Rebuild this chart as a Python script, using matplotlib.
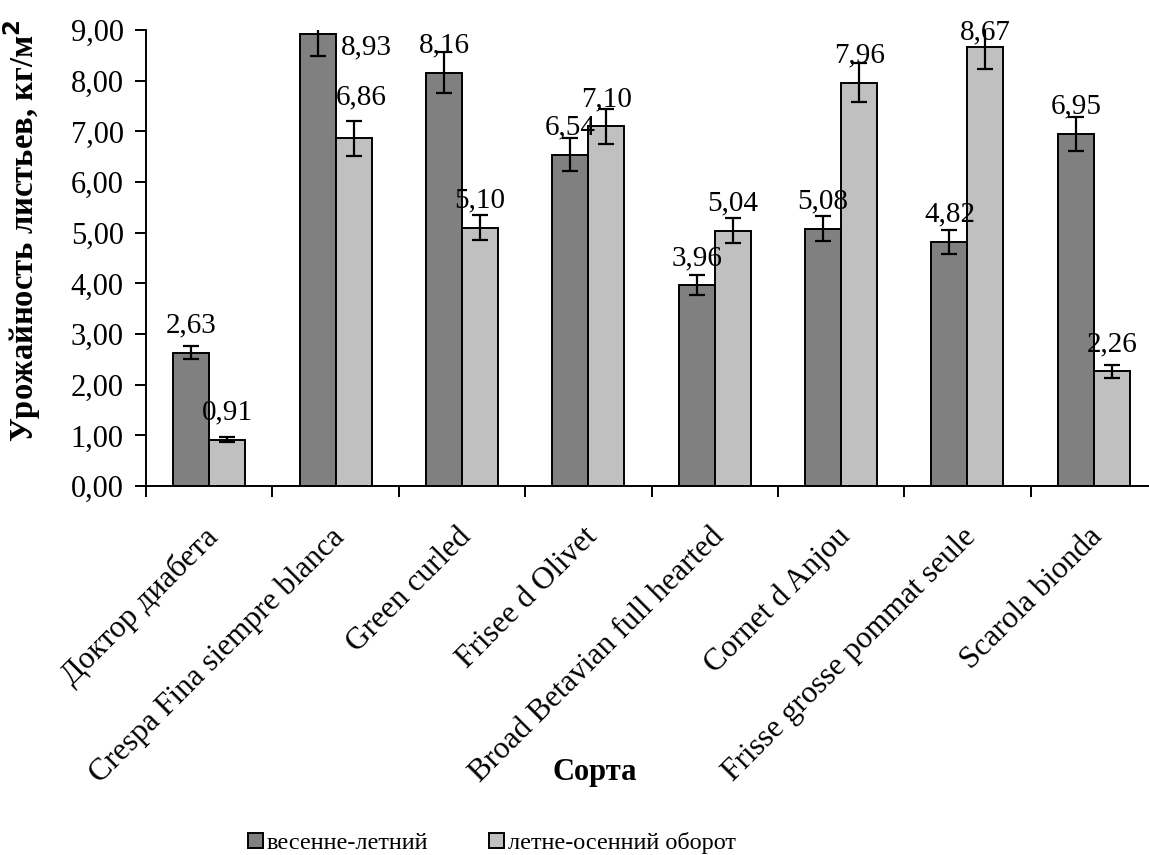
import matplotlib
matplotlib.use('Agg')
import matplotlib.pyplot as plt
import numpy as np
from matplotlib.ticker import FuncFormatter, MultipleLocator

plt.rcParams['font.family'] = ['Liberation Serif', 'DejaVu Serif']

varieties = ['Доктор диабета', 'Crespa Fina siempre blanca', 'Green curled',
             'Frisee d Olivet', 'Broad Betavian full hearted', 'Cornet d Anjou',
             'Frisse grosse pommat seule', 'Scarola bionda']
spring_summer = [2.63, 8.93, 8.16, 6.54, 3.96, 5.08, 4.82, 6.95]
summer_autumn = [0.91, 6.86, 5.10, 7.10, 5.04, 7.96, 8.67, 2.26]
spring_err = [0.13, 0.45, 0.40, 0.33, 0.20, 0.25, 0.24, 0.33]
summer_err = [0.05, 0.35, 0.25, 0.35, 0.25, 0.38, 0.43, 0.12]
series_names = ['весенне-летний', 'летне-осенний оборот']

fig = plt.figure(figsize=(11.49, 8.55), dpi=100)
ax = fig.add_axes([146 / 1149, 369 / 855, 1011 / 1149, 456 / 855])

x = np.arange(len(varieties))
w = 0.285
err_kw = dict(ecolor='black', elinewidth=1.6, capsize=6, capthick=1.6)
b1 = ax.bar(x - w / 2, spring_summer, w, color='#808080', edgecolor='black',
            linewidth=1.4, yerr=spring_err, error_kw=err_kw, label=series_names[0])
b2 = ax.bar(x + w / 2, summer_autumn, w, color='#c0c0c0', edgecolor='black',
            linewidth=1.4, yerr=summer_err, error_kw=err_kw, label=series_names[1])

# value labels above bars, kept inside the plot area near the top
nudges = {(1, 1): (8, 14)}
for s, (xs, vals) in enumerate([(x - w / 2, spring_summer), (x + w / 2, summer_autumn)]):
    for i, (xi, v) in enumerate(zip(xs, vals)):
        txt = f'{v:.2f}'.replace('.', ',')
        dx, dy = nudges.get((s, i), (0, 0))
        if v > 8.8:
            ax.annotate(txt, (xi + w / 2, v), xytext=(4, -10), textcoords='offset points',
                        ha='left', va='center', fontsize=21, annotation_clip=False)
            continue
        off = 19.5
        if v > 8.4:
            off = 10
        ax.annotate(txt, (xi, v), xytext=(dx * 0.72, off + dy * 0.72),
                    textcoords='offset points', ha='center', va='center',
                    fontsize=21, annotation_clip=False)

ax.set_ylim(0, 9)
ax.set_xlim(-0.5, len(varieties) - 0.5)
ax.yaxis.set_major_locator(MultipleLocator(1))
ax.yaxis.set_major_formatter(FuncFormatter(lambda v, p: f'{v:.2f}'.replace('.', ',')))
ax.set_xticks(np.arange(len(varieties) + 1) - 0.5)
ax.set_xticklabels([])
ax.tick_params(axis='x', which='major', length=8, width=1.4, direction='out')
ax.tick_params(axis='y', length=8, width=1.4, direction='out', labelsize=22, pad=8)
ax.spines['top'].set_visible(False)
ax.spines['right'].set_visible(False)
ax.spines['left'].set_linewidth(1.4)
ax.spines['bottom'].set_linewidth(1.4)

# category names, rotated, hanging from the category centres
for xi, name in zip(x, varieties):
    ax.annotate(name, (xi, 0), xycoords=('data', 'axes fraction'),
                xytext=(-4, -26), textcoords='offset points', rotation=45,
                rotation_mode='anchor', ha='right', va='top', fontsize=22.5)

ax.set_ylabel('Урожайность листьев, кг/м$^\\mathbf{2}$', fontsize=23.5, fontweight='bold')
ax.yaxis.set_label_coords(-0.102, 0.56)
fig.text(595 / 1149, 1 - 772 / 855, 'Сорта', fontsize=22, fontweight='bold',
         ha='center', va='center')

fig.legend(handles=[b1, b2], loc='center', bbox_to_anchor=(492 / 1149, 1 - 843 / 855),
           ncol=2, frameon=False, fontsize=17.5, handlelength=0.62, handleheight=0.62,
           handletextpad=0.15, columnspacing=2.5, borderpad=0)

fig.savefig('out.png', dpi=100)
